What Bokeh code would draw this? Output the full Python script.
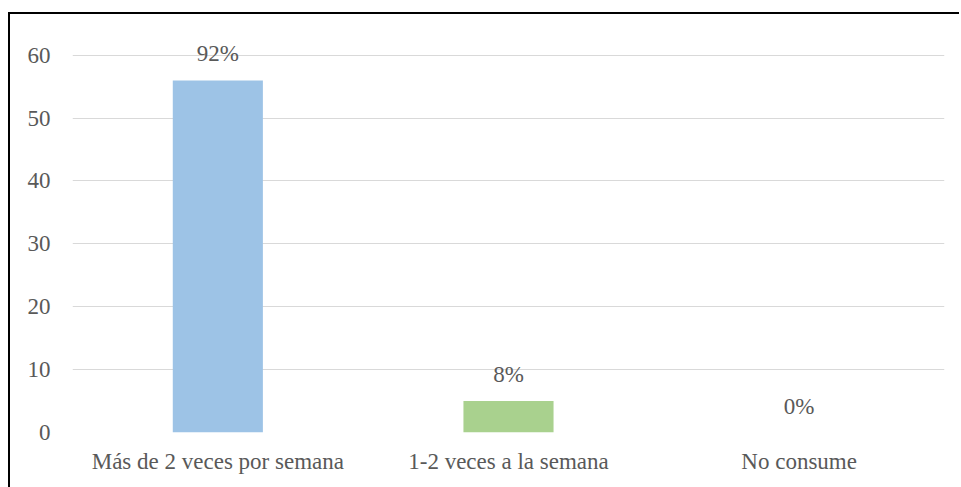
from bokeh.plotting import figure
from bokeh.models import ColumnDataSource, Range1d, FactorRange, FixedTicker
from bokeh.embed import file_html
from bokeh.resources import INLINE
from bokeh.core.properties import value

categories = ["Más de 2 veces por semana", "1-2 veces a la semana", "No consume"]
counts = [56, 5, 0]
percent_labels = ["92%", "8%", "0%"]
bar_colors = ["#9DC3E6", "#A9D18E", "#F4B183"]
y_ticks = [0, 10, 20, 30, 40, 50, 60]

FONT = "Liberation Serif"

src = ColumnDataSource(dict(cat=categories, val=counts, lab=percent_labels, color=bar_colors))

p = figure(width=951, height=475, x_range=FactorRange(*categories, range_padding=0),
           y_range=Range1d(0, 66), output_backend="svg", toolbar_location=None,
           min_border_left=62, min_border_right=17, min_border_top=3, min_border_bottom=57)
p.margin = (12, 0, 0, 8)
p.styles = {"border-top": "2px solid #000000", "border-left": "2px solid #000000"}
p.outline_line_color = None
p.background_fill_color = "white"
p.border_fill_color = "white"

p.vbar(x="cat", top="val", width=0.31, fill_color="color", line_color=None, source=src)
p.text(x="cat", y="val", text="lab", source=src, text_align="center", text_baseline="bottom",
       y_offset=-14, text_font=value(FONT), text_font_size="23px", text_color="#595959")

p.xgrid.grid_line_color = None
p.ygrid.grid_line_color = "#D9D9D9"
p.ygrid.grid_line_width = 1
p.yaxis.ticker = FixedTicker(ticks=y_ticks)
for ax in (p.xaxis, p.yaxis):
    ax.axis_line_color = None
    ax.major_tick_line_color = None
    ax.minor_tick_line_color = None
    ax.major_label_text_font = FONT
    ax.major_label_text_font_size = "23px"
    ax.major_label_text_color = "#595959"
p.yaxis.major_label_standoff = 16
p.xaxis.major_label_standoff = 10

open("out.html", "w").write(file_html(p, INLINE))
